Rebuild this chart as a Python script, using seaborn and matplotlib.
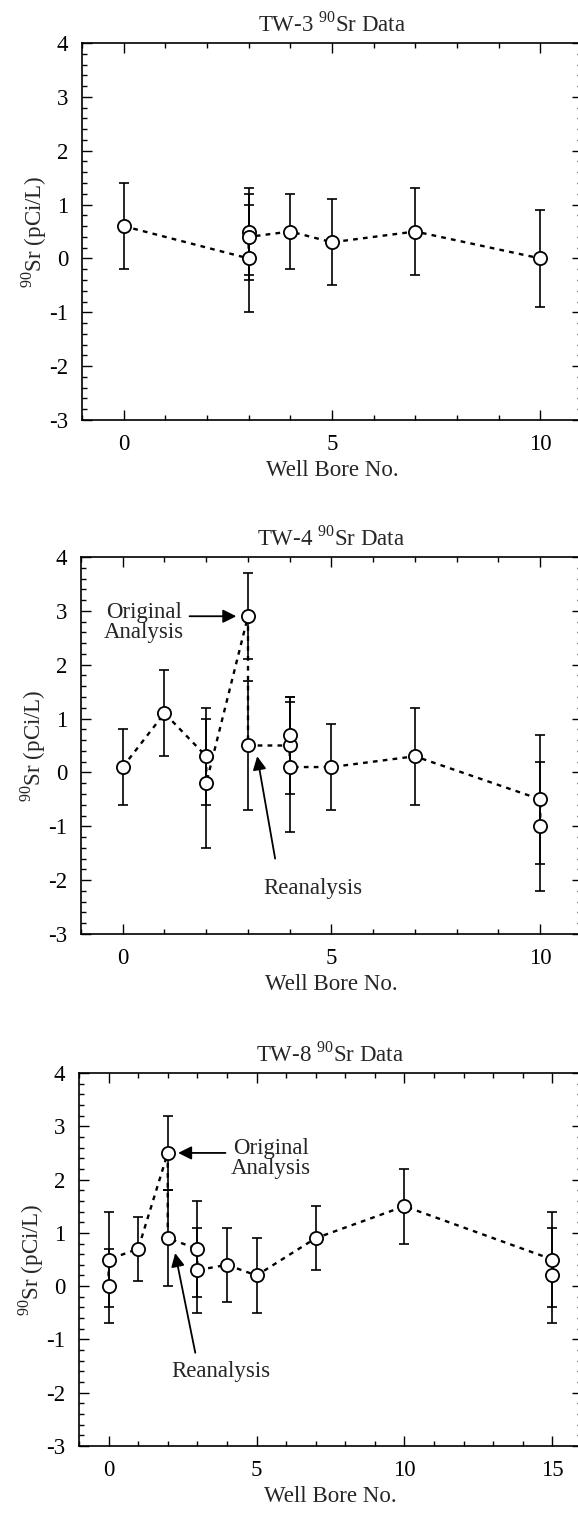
import numpy as np
import pandas as pd
import matplotlib
matplotlib.use('Agg')
import matplotlib.pyplot as plt
import seaborn as sns
from matplotlib.ticker import MultipleLocator

# TW-3 data (well bore no., 90Sr value, +/- uncertainty)
tw3_well = [0, 3, 3, 3, 4, 5, 7, 10]
tw3_sr = [0.6, 0.0, 0.5, 0.4, 0.5, 0.3, 0.5, 0.0]
tw3_err = [0.8, 1.0, 0.8, 0.8, 0.7, 0.8, 0.8, 0.9]

# TW-4 data
tw4_well = [0, 1, 2, 2, 3, 3, 4, 4, 4, 5, 7, 10, 10]
tw4_sr = [0.1, 1.1, 0.3, -0.2, 2.9, 0.5, 0.5, 0.7, 0.1, 0.1, 0.3, -0.5, -1.0]
tw4_err = [0.7, 0.8, 0.9, 1.2, 0.8, 1.2, 0.9, 0.7, 1.2, 0.8, 0.9, 1.2, 1.2]

# TW-8 data
tw8_well = [0, 0, 1, 2, 2, 3, 3, 4, 5, 7, 10, 15, 15]
tw8_sr = [0.0, 0.5, 0.7, 2.5, 0.9, 0.7, 0.3, 0.4, 0.2, 0.9, 1.5, 0.5, 0.2]
tw8_err = [0.7, 0.9, 0.6, 0.7, 0.9, 0.9, 0.8, 0.7, 0.7, 0.6, 0.7, 0.9, 0.9]

titles = ['TW-3 $^{\\mathrm{90}}$Sr Data', 'TW-4 $^{\\mathrm{90}}$Sr Data', 'TW-8 $^{\\mathrm{90}}$Sr Data']
ylab = '$^{\\mathrm{90}}$Sr (pCi/L)'
xlab = 'Well Bore No.'

sns.set_theme(style='ticks')
plt.rcParams['font.family'] = ['Liberation Serif', 'DejaVu Serif']
plt.rcParams['mathtext.fontset'] = 'custom'
plt.rcParams['mathtext.rm'] = 'Liberation Serif'
plt.rcParams['axes.unicode_minus'] = False
FS = 16.5

W, H = 578, 1513
fig = plt.figure(figsize=(W / 100, H / 100), dpi=100)

# axes boxes in pixels: left, right, top, bottom
boxes = [(82, 582, 43, 420), (81, 582, 557, 934), (79, 582, 1073, 1446)]
xlims = [(-1, 11), (-1, 11), (-1, 16)]
data = [(tw3_well, tw3_sr, tw3_err), (tw4_well, tw4_sr, tw4_err), (tw8_well, tw8_sr, tw8_err)]

axes = []
for (l, r, t, b), xl, (wx, sy, er), title in zip(boxes, xlims, data, titles):
    ax = fig.add_axes([l / W, 1 - b / H, (r - l) / W, (b - t) / H])
    df = pd.DataFrame({'well': wx, 'sr': sy, 'err': er})
    sns.lineplot(data=df, x='well', y='sr', sort=False, estimator=None, ax=ax,
                 color='black', lw=1.7, linestyle=(0, (2, 2.2)), zorder=1)
    ax.errorbar(df['well'], df['sr'], yerr=df['err'], fmt='none', ecolor='black',
                elinewidth=1.2, capsize=3.5, capthick=1.2, zorder=2)
    sns.scatterplot(data=df, x='well', y='sr', ax=ax, s=90, facecolor='white',
                    edgecolor='black', linewidth=1.3, zorder=4)
    ax.set_xlim(*xl)
    ax.set_ylim(-3, 4)
    ax.xaxis.set_major_locator(MultipleLocator(5))
    ax.xaxis.set_minor_locator(MultipleLocator(1))
    ax.yaxis.set_major_locator(MultipleLocator(1))
    ax.yaxis.set_minor_locator(MultipleLocator(0.2))
    ax.tick_params(which='both', direction='in', top=True, right=True,
                   colors='black', labelsize=FS)
    ax.tick_params(which='major', length=7, width=1, pad=10)
    ax.tick_params(which='minor', length=3.5, width=1)
    for s in ax.spines.values():
        s.set_color('black')
        s.set_linewidth(1.2)
    ax.set_title(title, fontsize=FS, pad=8)
    ax.set_xlabel(xlab, fontsize=FS, labelpad=4)
    ax.set_ylabel(ylab, fontsize=FS)
    ax.yaxis.set_label_coords(-0.066, 0.5)
    axes.append(ax)

arrow = dict(arrowstyle='-|>', color='black', lw=1.3, mutation_scale=20, shrinkA=0, shrinkB=0)

ax = axes[1]
ax.text(0.5, 2.78, 'Original\nAnalysis', ha='center', va='center', fontsize=FS, linespacing=0.95)
ax.annotate('', xy=(2.72, 2.9), xytext=(1.6, 2.9), arrowprops=arrow)
ax.text(4.55, -2.15, 'Reanalysis', ha='center', va='center', fontsize=FS)
ax.annotate('', xy=(3.22, 0.3), xytext=(3.65, -1.6), arrowprops=arrow)

ax = axes[2]
ax.text(5.5, 2.4, 'Original\nAnalysis', ha='center', va='center', fontsize=FS, linespacing=0.95)
ax.annotate('', xy=(2.35, 2.5), xytext=(3.95, 2.5), arrowprops=arrow)
ax.text(3.78, -1.6, 'Reanalysis', ha='center', va='center', fontsize=FS)
ax.annotate('', xy=(2.25, 0.62), xytext=(2.93, -1.25), arrowprops=arrow)

fig.savefig('out.png', dpi=100)
